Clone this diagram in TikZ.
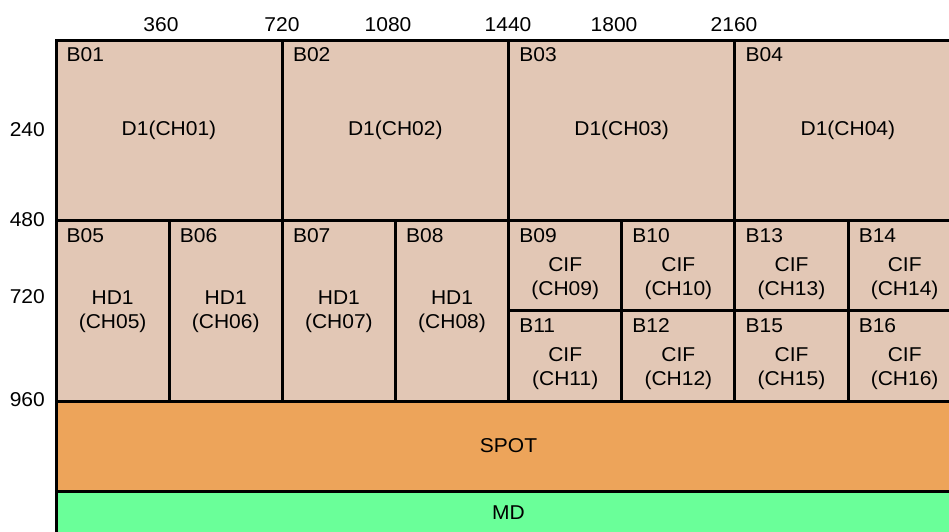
\documentclass[tikz,border=0pt]{standalone}
\usepackage{fontspec}
\setmainfont{Liberation Sans}
\definecolor{tilefill}{RGB}{226,199,181}
\definecolor{spotfill}{RGB}{237,164,90}
\definecolor{mdfill}{RGB}{106,255,153}
\tikzset{
  cell/.style={draw=black, fill=tilefill, line width=3pt},
  band/.style={draw=black, line width=3pt},
  tag/.style={anchor=base west, inner sep=0pt, xscale=1.05, font=\fontsize{20}{23.5}\selectfont},
  txt/.style={inner sep=0pt, align=center, xscale=1.05, font=\fontsize{20}{23.5}\selectfont},
  tick/.style={inner sep=0pt, xscale=1.05, font=\fontsize{20}{23.5}\selectfont}
}
\begin{document}
\begin{tikzpicture}[x=1pt, y=-1pt]
    \useasboundingbox (0,0) rectangle (949,531);
    \clip (0,0) rectangle (949,531);

    % D1 boxes
    \foreach \i/\n in {0/01,1/02,2/03,3/04} {
        \draw[cell] ({56+226.3*\i},40) rectangle ++(226.3,180.5);
        \node[tag] (b\n) at ({66.5+226.3*\i},61.5) {B\n};
        \node[txt] (d\n) at ({169+226.3*\i},130) {D1(CH\n)};
    }

    % HD1 boxes
    \foreach \k/\n in {0/05,1/06,2/07,3/08} {
        \draw[cell] ({56+113.15*\k},220.5) rectangle ++(113.15,180.5);
        \node[tag] (b\n) at ({66.5+113.15*\k},242) {B\n};
        \node[txt] (h\n) at ({112.6+113.15*\k},311.5) {HD1\\(CH\n)};
    }

    % CIF boxes
    \foreach \k/\r/\n in {4/0/09,5/0/10,4/1/11,5/1/12,6/0/13,7/0/14,6/1/15,7/1/16} {
        \draw[cell] ({56+113.15*\k},{220.5+90.25*\r}) rectangle ++(113.15,90.25);
        \node[tag] (b\n) at ({66.5+113.15*\k},{242+90.25*\r}) {B\n};
        \node[txt] (c\n) at ({112.6+113.15*\k},{278.5+90.25*\r}) {CIF\\(CH\n)};
    }

    % Bands
    \draw[band, fill=spotfill] (56,401) rectangle (961,491);
    \node[txt] (spot) at (508.5,446) {SPOT};
    \draw[band, fill=mdfill] (56,491) rectangle (961,540);
    \node[txt] (md) at (508.5,513) {MD};

    % Scales
    \foreach \x/\v in {161/360,282/720,388/1080,508/1440,614/1800,734/2160}
        \node[tick, anchor=base] (t\v) at (\x,31.5) {\v};
    \foreach \y/\v in {130/240,220/480,297/720,400/960}
        \node[tick, anchor=east] (s\v) at (45,\y) {\v};
\end{tikzpicture}
\end{document}
